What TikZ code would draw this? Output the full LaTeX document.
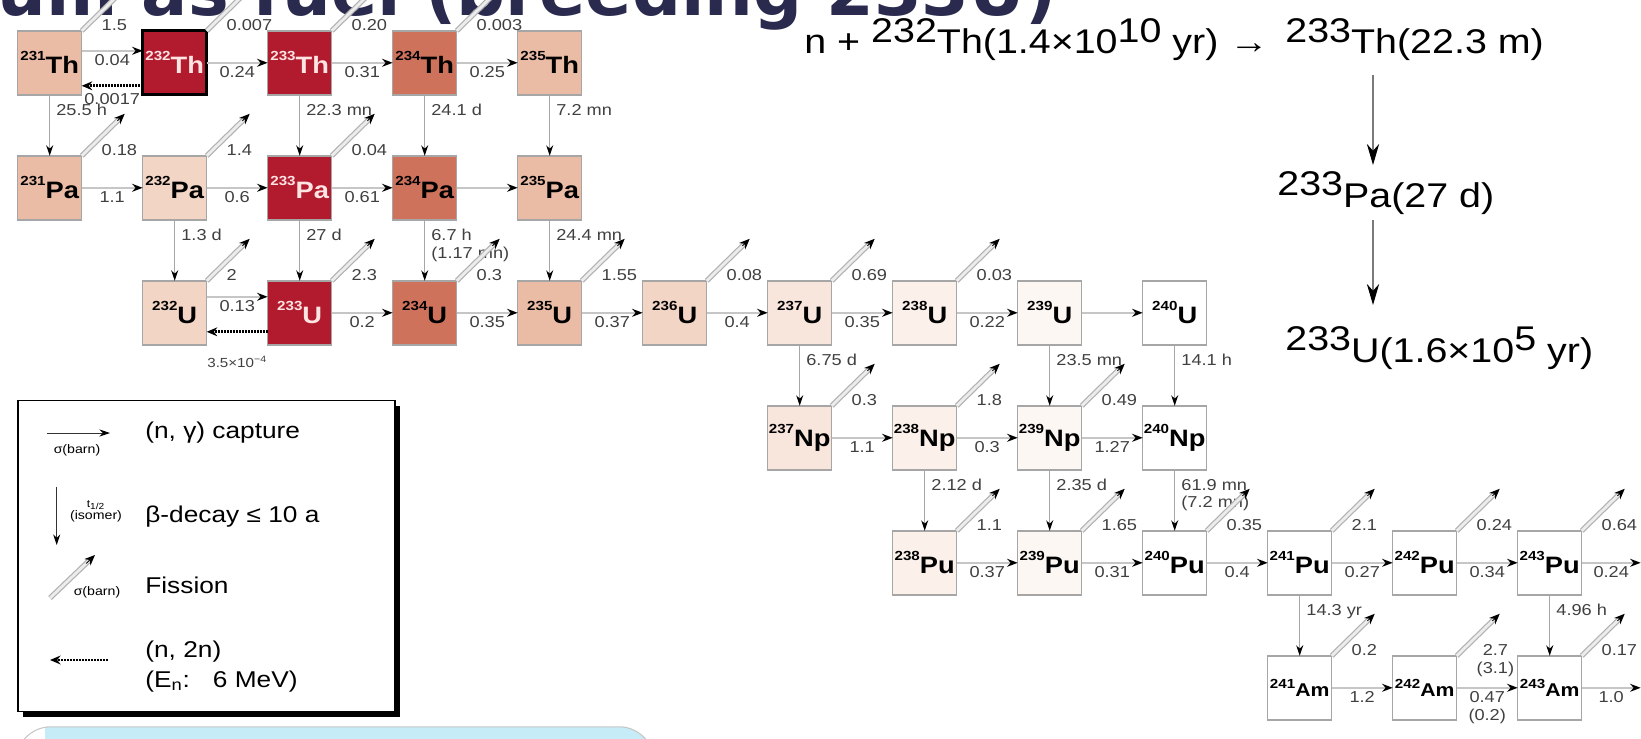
\documentclass[tikz,border=0pt]{standalone}
\usepackage{fontspec}
\setmainfont{Liberation Sans}[FakeStretch=1.15]
\newfontfamily\titlefont{DejaVu Sans}
\usetikzlibrary{positioning,arrows.meta}

\definecolor{nucA}{RGB}{178,27,45}
\definecolor{nucB}{RGB}{207,114,92}
\definecolor{nucC}{RGB}{234,187,165}
\definecolor{nucD}{RGB}{243,213,197}
\definecolor{nucE}{RGB}{248,229,220}
\definecolor{nucF}{RGB}{251,240,234}
\definecolor{nucG}{RGB}{253,247,244}
\definecolor{nucT}{RGB}{255,228,228}
\definecolor{titlec}{RGB}{42,42,78}
\definecolor{blueish}{RGB}{198,236,247}

\tikzstyle{nuc} = [rectangle, minimum size=1.28cm, inner sep=0pt, outer sep=0pt, draw=gray!70, line width=0.8pt, fill=white, font=\fontsize{13.5}{14}\selectfont\bfseries]
\tikzstyle{hot} = [nuc, fill=nucA, text=nucT]
\tikzstyle{ngam} = [gray!45, line width=1.4pt, -{Stealth[black, length=6pt, width=4.5pt]}]
\tikzstyle{beta} = [gray!70, line width=0.6pt, -{Stealth[black, length=6pt, width=4pt]}]
\tikzstyle{ntwo} = [black, line width=1.6pt, dash pattern=on 1.2pt off 0.5pt, -{Stealth[length=6pt, width=5pt]}]
\tikzstyle{fisline} = [draw=gray!60, double=gray!15, double distance=1.6pt, line width=0.7pt, shorten >=5pt]
\tikzstyle{fistip} = [black, line width=0.5pt, shorten <=1cm, -{Stealth[length=6pt, width=5pt]}]
\tikzstyle{lab} = [font=\fontsize{9}{10}\selectfont, text=black!75, inner sep=1.5pt]
\tikzstyle{clab} = [lab, below, align=center]
\tikzstyle{dlab} = [lab, anchor=north west, pos=0.1, xshift=2pt, align=left]
\tikzstyle{flab} = [lab, anchor=west, align=center]
\tikzstyle{eq} = [inner sep=0pt, anchor=base west, font=\fontsize{19.5}{22}\selectfont]
\tikzstyle{leg} = [inner sep=0pt, anchor=west, align=left, font=\fontsize{13}{17}\selectfont]
\tikzstyle{legs} = [inner sep=0pt, font=\fontsize{7}{8}\selectfont]

\newcommand{\iso}[2]{\raisebox{7.5pt}{\fontsize{7.5}{8}\selectfont #1}#2}
\newcommand{\isoam}[1]{\raisebox{5pt}{\fontsize{7.5}{8}\selectfont #1}{\fontsize{10.5}{11}\selectfont Am}}
\newcommand{\rsup}[1]{\raisebox{6.6pt}{#1}}
\newcommand{\fis}[3][]{%
  \coordinate (#2f) at ([shift={(0.86,0.84)}]#2.north east);
  \draw[fisline] (#2.north east) -- (#2f);
  \draw[fistip] (#2.north east) -- (#2f);
  \node[flab, #1] at ([shift={(0.34,0.12)}]#2.north east) {#3};}

\begin{document}
\begin{tikzpicture}[node distance=1.22cm]
\clip (-0.994,1.256) rectangle (31.826,-13.524);

% slide remnants
\node (title) [anchor=base east, inner sep=0pt, text=titlec, font=\titlefont\bfseries\fontsize{39}{40}\selectfont] at (20.146,0.956) {Thorium as fuel (breeding 233U)};
\begin{scope}
\clip[rounded corners=0.7cm] (-0.674,-13.28) rectangle (12.086,-15);
\fill[blueish] (-0.094,-13.28) rectangle (12.086,-15);
\end{scope}
\draw[gray!45, line width=0.6pt, rounded corners=0.7cm] (-0.674,-13.28) rectangle (12.086,-15);

% Th row
\node (Th231) [nuc, fill=nucC] {\iso{231}{Th}};
\node (Th232) [hot, right=of Th231, draw=black, line width=1.8pt] {\iso{232}{Th}};
\node (Th233) [hot, right=of Th232] {\iso{233}{Th}};
\node (Th234) [nuc, right=of Th233, fill=nucB] {\iso{234}{Th}};
\node (Th235) [nuc, right=of Th234, fill=nucC] {\iso{235}{Th}};
% Pa row
\node (Pa231) [nuc, below=of Th231, fill=nucC] {\iso{231}{Pa}};
\node (Pa232) [nuc, right=of Pa231, fill=nucD] {\iso{232}{Pa}};
\node (Pa233) [hot, right=of Pa232] {\iso{233}{Pa}};
\node (Pa234) [nuc, right=of Pa233, fill=nucB] {\iso{234}{Pa}};
\node (Pa235) [nuc, right=of Pa234, fill=nucC] {\iso{235}{Pa}};
% U row
\node (U232) [nuc, below=of Pa232, fill=nucD] {\iso{232}{U}};
\node (U233) [hot, right=of U232] {\iso{233}{U}};
\node (U234) [nuc, right=of U233, fill=nucB] {\iso{234}{U}};
\node (U235) [nuc, right=of U234, fill=nucC] {\iso{235}{U}};
\node (U236) [nuc, right=of U235, fill=nucD] {\iso{236}{U}};
\node (U237) [nuc, right=of U236, fill=nucE] {\iso{237}{U}};
\node (U238) [nuc, right=of U237, fill=nucF] {\iso{238}{U}};
\node (U239) [nuc, right=of U238, fill=nucG] {\iso{239}{U}};
\node (U240) [nuc, right=of U239] {\iso{240}{U}};
% Np row
\node (Np237) [nuc, below=of U237, fill=nucE] {\iso{237}{Np}};
\node (Np238) [nuc, right=of Np237, fill=nucF] {\iso{238}{Np}};
\node (Np239) [nuc, right=of Np238, fill=nucG] {\iso{239}{Np}};
\node (Np240) [nuc, right=of Np239] {\iso{240}{Np}};
% Pu row
\node (Pu238) [nuc, below=of Np238, fill=nucF] {\iso{238}{Pu}};
\node (Pu239) [nuc, right=of Pu238, fill=nucG] {\iso{239}{Pu}};
\node (Pu240) [nuc, right=of Pu239] {\iso{240}{Pu}};
\node (Pu241) [nuc, right=of Pu240] {\iso{241}{Pu}};
\node (Pu242) [nuc, right=of Pu241] {\iso{242}{Pu}};
\node (Pu243) [nuc, right=of Pu242] {\iso{243}{Pu}};
% Am row
\node (Am241) [nuc, below=of Pu241] {\isoam{241}};
\node (Am242) [nuc, right=of Am241] {\isoam{242}};
\node (Am243) [nuc, right=of Am242] {\isoam{243}};
\coordinate[right=1.18cm of Pu243] (Pu243out);
\coordinate[right=1.18cm of Am243] (Am243out);

% (n,gamma) captures and (n,2n)
\draw[ngam] ([yshift=0.24cm]Th231.east) -- node[clab] {0.04} ([yshift=0.24cm]Th232.west);
\draw[ntwo] ([yshift=-0.46cm]Th232.west) -- node[clab, yshift=-0.08cm] {0.0017} ([yshift=-0.46cm]Th231.east);
\draw[ngam] (Th232) -- node[clab] {0.24} (Th233);
\draw[ngam] (Th233) -- node[clab] {0.31} (Th234);
\draw[ngam] (Th234) -- node[clab] {0.25} (Th235);
\draw[ngam] (Pa231) -- node[clab] {1.1} (Pa232);
\draw[ngam] (Pa232) -- node[clab] {0.6} (Pa233);
\draw[ngam] (Pa233) -- node[clab] {0.61} (Pa234);
\draw[ngam] (Pa234) -- (Pa235);
\draw[ngam] ([yshift=0.32cm]U232.east) -- node[clab] {0.13} ([yshift=0.32cm]U233.west);
\draw[ntwo] ([yshift=-0.38cm]U233.west) -- node[clab, yshift=-0.4cm, font=\fontsize{7.5}{8}\selectfont] {3.5×10\textsuperscript{−4}} ([yshift=-0.38cm]U232.east);
\draw[ngam] (U233) -- node[clab] {0.2} (U234);
\draw[ngam] (U234) -- node[clab] {0.35} (U235);
\draw[ngam] (U235) -- node[clab] {0.37} (U236);
\draw[ngam] (U236) -- node[clab] {0.4} (U237);
\draw[ngam] (U237) -- node[clab] {0.35} (U238);
\draw[ngam] (U238) -- node[clab] {0.22} (U239);
\draw[ngam] (U239) -- (U240);
\draw[ngam] (Np237) -- node[clab] {1.1} (Np238);
\draw[ngam] (Np238) -- node[clab] {0.3} (Np239);
\draw[ngam] (Np239) -- node[clab] {1.27} (Np240);
\draw[ngam] (Pu238) -- node[clab] {0.37} (Pu239);
\draw[ngam] (Pu239) -- node[clab] {0.31} (Pu240);
\draw[ngam] (Pu240) -- node[clab] {0.4} (Pu241);
\draw[ngam] (Pu241) -- node[clab] {0.27} (Pu242);
\draw[ngam] (Pu242) -- node[clab] {0.34} (Pu243);
\draw[ngam] (Pu243) -- node[clab] {0.24} (Pu243out);
\draw[ngam] (Am241) -- node[clab] {1.2} (Am242);
\draw[ngam] (Am242) -- node[clab] {0.47\\(0.2)} (Am243);
\draw[ngam] (Am243) -- node[clab] {1.0} (Am243out);

% beta decays
\draw[beta] (Th231) -- node[dlab] {25.5 h} (Pa231);
\draw[beta] (Th233) -- node[dlab] {22.3 mn} (Pa233);
\draw[beta] (Th234) -- node[dlab] {24.1 d} (Pa234);
\draw[beta] (Th235) -- node[dlab] {7.2 mn} (Pa235);
\draw[beta] (Pa232) -- node[dlab] {1.3 d} (U232);
\draw[beta] (Pa233) -- node[dlab] {27 d} (U233);
\draw[beta] (Pa234) -- node[dlab] {6.7 h\\(1.17 mn)} (U234);
\draw[beta] (Pa235) -- node[dlab] {24.4 mn} (U235);
\draw[beta] (U237) -- node[dlab] {6.75 d} (Np237);
\draw[beta] (U239) -- node[dlab] {23.5 mn} (Np239);
\draw[beta] (U240) -- node[dlab] {14.1 h} (Np240);
\draw[beta] (Np238) -- node[dlab] {2.12 d} (Pu238);
\draw[beta] (Np239) -- node[dlab] {2.35 d} (Pu239);
\draw[beta] (Np240) -- node[dlab] {61.9 mn\\(7.2 mn)} (Pu240);
\draw[beta] (Pu241) -- node[dlab] {14.3 yr} (Am241);
\draw[beta] (Pu243) -- node[dlab] {4.96 h} (Am243);

% fission
\fis{Th231}{1.5}
\fis{Th232}{0.007}
\fis{Th233}{0.20}
\fis{Th234}{0.003}
\fis{Pa231}{0.18}
\fis{Pa232}{1.4}
\fis{Pa233}{0.04}
\fis{U232}{2}
\fis{U233}{2.3}
\fis{U234}{0.3}
\fis{U235}{1.55}
\fis{U236}{0.08}
\fis{U237}{0.69}
\fis{U238}{0.03}
\fis{Np237}{0.3}
\fis{Np238}{1.8}
\fis{Np239}{0.49}
\fis{Pu238}{1.1}
\fis{Pu239}{1.65}
\fis{Pu240}{0.35}
\fis{Pu241}{2.1}
\fis{Pu242}{0.24}
\fis{Pu243}{0.64}
\fis{Am241}{0.2}
\fis[yshift=-0.22cm]{Am242}{2.7\\(3.1)}
\fis{Am243}{0.17}

% breeding chain
\node (eqL) [eq] at (15.086,0.176) {n + \rsup{232}Th(1.4×10\rsup{10} yr) →};
\node (ThR) [eq] at (24.706,0.176) {\rsup{233}Th(22.3 m)};
\node (PaR) [eq] at (24.546,-2.884) {\rsup{233}Pa(27 d)};
\node (UR) [eq] at (24.706,-5.984) {\rsup{233}U(1.6×10\rsup{5} yr)};
\draw[black!80, line width=0.6pt, -{Stealth[black, length=12pt, width=7pt]}] ([xshift=1.76cm, yshift=-0.42cm]ThR.base west) -- ([xshift=1.92cm, yshift=0.84cm]PaR.base west);
\draw[black!80, line width=0.6pt, -{Stealth[black, length=12pt, width=7pt]}] ([xshift=1.92cm, yshift=-0.26cm]PaR.base west) -- ([xshift=1.76cm, yshift=1.14cm]UR.base west);

% legend
\fill[black] (-0.534,-6.858) rectangle (7.006,-13.078);
\draw[black, line width=0.6pt, fill=white] (-0.634,-6.758) rectangle (6.906,-12.978);
\coordinate (lc1) at (-0.06,-7.404);
\coordinate (lc2) at (1.206,-7.404);
\draw[black!80, line width=0.5pt, -{Stealth[black, length=6pt, width=4pt]}] (lc1) -- (lc2);
\node (lcs) [legs] at (0.546,-7.744) {σ(barn)};
\node (lct) [leg] at (1.906,-7.404) {(n, γ) capture};
\coordinate (ld1) at (0.14,-8.478);
\coordinate (ld2) at (0.14,-9.644);
\draw[black!80, line width=0.5pt, -{Stealth[black, length=6pt, width=4pt]}] (ld1) -- (ld2);
\node (lds) [legs, font=\fontsize{6}{7}\selectfont] at (0.926,-8.844) {t\textsubscript{1/2}};
\node (ldi) [legs] at (0.926,-9.078) {(isomer)};
\node (ldt) [leg] at (1.906,-9.078) {β-decay ≤ 10 a};
\coordinate (lf1) at (0.006,-10.704);
\coordinate (lf2) at (0.906,-9.844);
\draw[fisline] (lf1) -- (lf2);
\draw[fistip] (lf1) -- (lf2);
\node (lfs) [legs] at (0.946,-10.584) {σ(barn)};
\node (lft) [leg] at (1.906,-10.444) {Fission};
\coordinate (ln1) at (1.166,-11.944);
\coordinate (ln2) at (0.006,-11.944);
\draw[ntwo] (ln1) -- (ln2);
\node (lnt) [leg] at (1.906,-12.078) {(n, 2n)\\(E\textsubscript{n}:\quad 6 MeV)};
\end{tikzpicture}
\end{document}
